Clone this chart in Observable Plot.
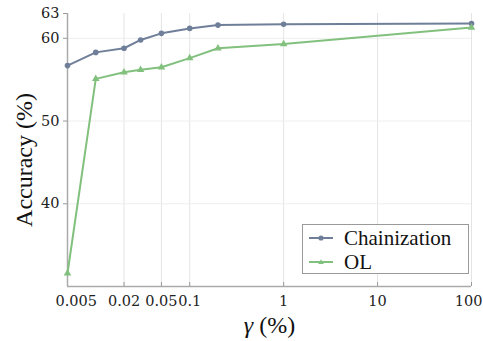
<!DOCTYPE html>
<html><head><meta charset="utf-8">
<script src="https://cdn.jsdelivr.net/npm/d3@7"></script>
<script src="https://cdn.jsdelivr.net/npm/@observablehq/plot@0.6"></script>
<style>
body{margin:0;background:#fff}
#wrap{position:relative;width:483px;height:341px}
.legend{position:absolute;left:302px;top:224px;width:167px;height:50px;border:1px solid #9a9a9a;background:#fff;font-family:"Liberation Serif",serif;font-size:21px;color:#111;box-sizing:border-box}
.legend .row{position:absolute;left:6px;height:22px;display:flex;align-items:center;white-space:nowrap}
.legend svg{margin-right:11px}
</style></head><body><div id="wrap"></div>
<script>
const gamma = [0.005, 0.01, 0.02, 0.03, 0.05, 0.1, 0.2, 1, 100];
const chainization = [56.7, 58.3, 58.8, 59.8, 60.6, 61.2, 61.6, 61.7, 61.8];
const ol = [31.6, 55.1, 55.9, 56.2, 56.5, 57.6, 58.8, 59.3, 61.3];
const xTicks = [0.005, 0.02, 0.05, 0.1, 1, 10, 100];
const yTicks = [40, 50, 60, 63];
const gridYTicks = [40, 50, 60];
const seriesNames = ["Chainization", "OL"];
const xLabel = "γ (%)";
const yLabel = "Accuracy (%)";
const colors = ["#6f7f99", "#82c07e"];
const symbols = ["circle", "triangle"];

const data = [];
gamma.forEach((g, i) => {
  data.push({series: seriesNames[0], x: g, y: chainization[i]});
  data.push({series: seriesNames[1], x: g, y: ol[i]});
});

const fmt = d => String(d);
const tickFont = "'DejaVu Serif', serif";
const labelFont = "'Liberation Serif', serif";
const n = xTicks.length;

const chart = Plot.plot({
  width: 483,
  height: 341,
  marginLeft: 67,
  marginRight: 12,
  marginTop: 13,
  marginBottom: 55,
  style: {fontFamily: labelFont, background: "#fff", color: "#111"},
  x: {type: "log", domain: [0.005, 100]},
  y: {domain: [30, 63]},
  color: {domain: seriesNames, range: colors},
  symbol: {domain: seriesNames, range: symbols},
  marks: [
    Plot.gridX(xTicks, {stroke: "#e4e4e4", strokeOpacity: 1}),
    Plot.gridY(gridYTicks, {stroke: "#eeeeee", strokeOpacity: 1}),
    Plot.axisX(xTicks, {tickSize: -4, text: null, stroke: "#999", label: null}),
    Plot.text(xTicks.slice(0, 1), {x: d => d, frameAnchor: "bottom", lineAnchor: "middle", textAnchor: "start", dx: -12, dy: 15, text: fmt, fontSize: 14.5, fontFamily: tickFont, fill: "#222"}),
    Plot.text(xTicks.slice(1, n - 1), {x: d => d, frameAnchor: "bottom", lineAnchor: "middle", textAnchor: "middle", dy: 15, text: fmt, fontSize: 14.5, fontFamily: tickFont, fill: "#222"}),
    Plot.text(xTicks.slice(n - 1), {x: d => d, frameAnchor: "bottom", lineAnchor: "middle", textAnchor: "end", dx: 11, dy: 15, text: fmt, fontSize: 14.5, fontFamily: tickFont, fill: "#222"}),
    Plot.axisY(yTicks, {tickFormat: fmt, tickSize: 4, tickPadding: 4, fontSize: 14.5, fontFamily: tickFont, fill: "#222", stroke: "#999", label: null}),
    Plot.ruleX([0.005], {stroke: "#aaa", strokeWidth: 1.5}),
    Plot.ruleY([30], {stroke: "#aaa", strokeWidth: 1.5}),
    Plot.line(data, {x: "x", y: "y", z: "series", stroke: "series", strokeWidth: 2}),
    Plot.dot(data, {x: "x", y: "y", fill: "series", symbol: "series", r: 2.8, stroke: null}),
    Plot.text([xLabel], {frameAnchor: "bottom", lineAnchor: "middle", textAnchor: "middle", dy: 39, text: d => d, fontSize: 24, fontFamily: labelFont, fill: "#111"}),
    Plot.text([yLabel], {frameAnchor: "left", lineAnchor: "middle", textAnchor: "middle", rotate: -90, dx: -43, dy: 10, text: d => d, fontSize: 24, fontFamily: labelFont, fill: "#111"})
  ]
});

chart.querySelectorAll("text").forEach(t => {
  if (t.textContent === xLabel) {
    t.textContent = "";
    const a = document.createElementNS("http://www.w3.org/2000/svg", "tspan");
    a.setAttribute("font-style", "italic");
    a.textContent = "γ";
    const b = document.createElementNS("http://www.w3.org/2000/svg", "tspan");
    b.textContent = " (%)";
    t.appendChild(a); t.appendChild(b);
    t.style.fontFamily = "'Liberation Serif', serif";
  } else if (t.textContent === yLabel) {
    t.style.fontFamily = "'Liberation Serif', serif";
  } else {
    t.style.fontFamily = "'DejaVu Serif', serif";
  }
});

const wrap = document.getElementById("wrap");
wrap.appendChild(chart);

const leg = document.createElement("div");
leg.className = "legend";
seriesNames.forEach((name, i) => {
  const row = document.createElement("div");
  row.className = "row";
  row.style.top = (2 + i * 24) + "px";
  const marker = i === 0
    ? `<circle cx="12" cy="6" r="2.6" fill="${colors[i]}"/>`
    : `<path d="M12,3.2L14.8,8L9.2,8Z" fill="${colors[i]}"/>`;
  row.innerHTML = `<svg width="24" height="12"><line x1="0" x2="24" y1="6" y2="6" stroke="${colors[i]}" stroke-width="2"/>${marker}</svg><span>${name}</span>`;
  leg.appendChild(row);
});
wrap.appendChild(leg);
</script>
</body></html>
